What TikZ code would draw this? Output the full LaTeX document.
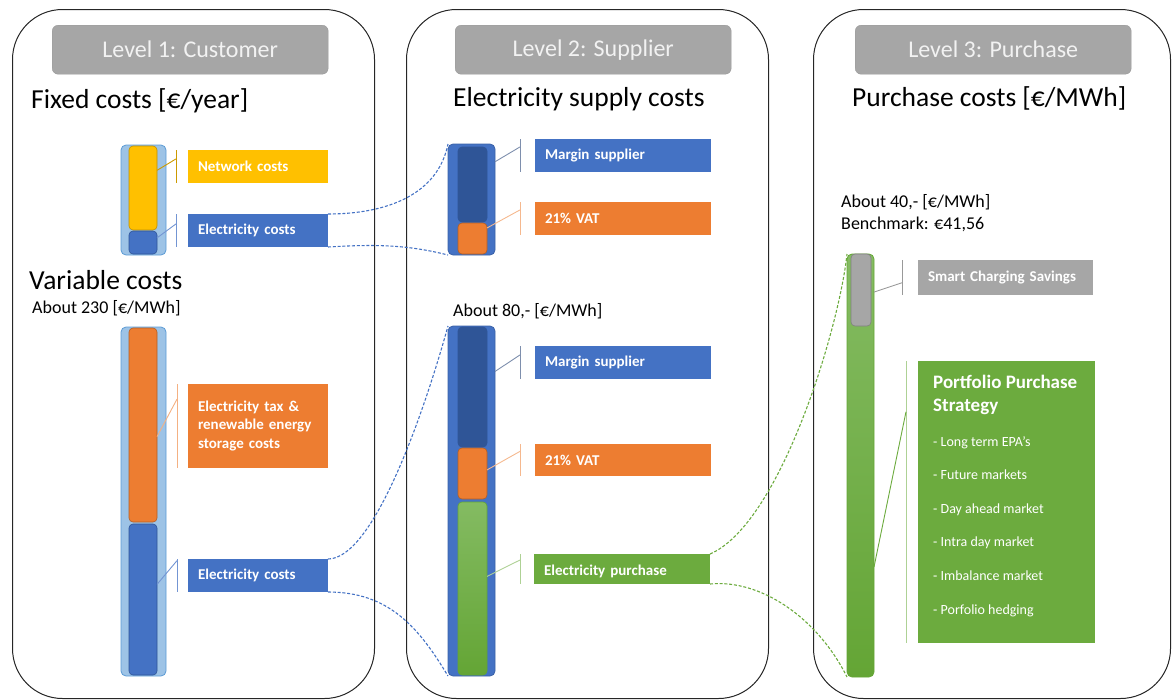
\documentclass[tikz,border=0pt]{standalone}
\usepackage{fontspec}
\setmainfont{Carlito}
\usetikzlibrary{calc}
\definecolor{cyel}{HTML}{FFC000}
\definecolor{cblue}{HTML}{4472C4}
\definecolor{cdblue}{HTML}{2F5597}
\definecolor{corange}{HTML}{ED7D31}
\definecolor{cgreen}{HTML}{6CAB3E}
\definecolor{cgreenl}{HTML}{84BB62}
\definecolor{cgreend}{HTML}{64A535}
\definecolor{cgrey}{HTML}{A6A6A6}
\definecolor{clblue}{HTML}{9DC3E6}
\definecolor{cmblue}{HTML}{5B9BD5}
\begin{document}
\begin{tikzpicture}[x=1pt, y=-1pt,
  panel/.style={draw=black!85, line width=1pt, rounded corners=50pt, inner sep=0pt, anchor=north west},
  header/.style={draw=black!40, fill=cgrey, rounded corners=6pt, text=black!5, font=\fontsize{24}{28}\selectfont,
    minimum width=276pt, minimum height=49pt, inner sep=0pt, anchor=north west},
  title/.style={anchor=base west, inner sep=0pt, font=\fontsize{27.5}{32}\selectfont},
  note/.style={anchor=base west, inner sep=0pt, font=\fontsize{18}{22}\selectfont},
  bar/.style={rounded corners=5pt, inner sep=0pt, outer sep=0pt, line width=0.8pt, anchor=north west},
  seg/.style={rounded corners=4pt, inner sep=0pt, outer sep=0pt, line width=0.6pt, anchor=north west},
  lbl/.style={inner xsep=10pt, inner ysep=0pt, outer sep=0pt, anchor=north west, text=white, align=left,
    text width=#1, minimum height=33pt, font=\fontsize{15}{18.5}\selectfont\bfseries},
  lbl/.default=120pt,
  item/.style={anchor=base west, inner sep=0pt, text=white, font=\fontsize{14}{16}\selectfont},
  ldr/.style={line width=0.9pt},
  link/.style={line width=1.1pt, dash pattern=on 3pt off 1.8pt}
]
\useasboundingbox (0,0) rectangle (1172,699);

% the three levels
\node[panel, minimum width=362pt, minimum height=689pt] (pan1) at (12,9) {};
\node[panel, minimum width=362pt, minimum height=689pt] (pan2) at (406,9) {};
\node[panel, minimum width=357pt, minimum height=689pt] (pan3) at (813,9) {};
\node[header] (head1) at (52,25) {Level 1: Customer};
\node[header] (head2) at (455,25) {Level 2: Supplier};
\node[header] (head3) at (855,25) {Level 3: Purchase};

\node[title] (fixt) at (31,108) {Fixed costs [€/year]};
\node[title] (supt) at (453,106) {Electricity supply costs};
\node[title] (purt) at (852,106) {Purchase costs [€/MWh]};
\node[title] (vart) at (29,289) {Variable costs};
\node[note] (varn) at (32,313) {About 230 [€/MWh]};
\node[note] (supn) at (453,316) {About 80,- [€/MWh]};
\node[note] (purn) at (841,207) {About 40,- [€/MWh]};
\node[note] (purb) at (841,229) {Benchmark: €41,56};

% level 1, fixed
\node[bar, fill=clblue, draw=cmblue, minimum width=45pt, minimum height=110pt] (fixbar) at (121,145) {};
\node[seg, fill=cyel, draw=cyel!75!black, minimum width=28pt, minimum height=84pt] (fixnet) at (129,146) {};
\node[seg, fill=cblue, draw=cdblue, minimum width=28pt, minimum height=23pt] (fixel) at (129,231) {};
\node[lbl, fill=cyel] (lnet) at (188,150) {Network costs};
\node[lbl, fill=cblue] (lfel) at (188,214) {Electricity costs};
\draw[ldr, cyel!80!black] ([xshift=-12pt]lnet.north west) -- ([xshift=-12pt]lnet.south west);
\draw[ldr, cyel!80!black] ($(fixnet.north east)!.29!(fixnet.south east)$) -- ($(lnet.north west)!.27!(lnet.south west)+(-12,0)$);
\draw[ldr, cblue!75] ([xshift=-12pt]lfel.north west) -- ([xshift=-12pt]lfel.south west);
\draw[ldr, cblue!75] ($(fixel.north east)!.3!(fixel.south east)$) -- ($(lfel.north west)!.3!(lfel.south west)+(-12,0)$);

% level 1, variable
\node[bar, fill=clblue, draw=cmblue, minimum width=45pt, minimum height=349pt] (varbar) at (121,327) {};
\node[seg, fill=corange, draw=corange!75!black, minimum width=28pt, minimum height=194pt] (vartax) at (129,328) {};
\node[seg, fill=cblue, draw=cdblue, minimum width=28pt, minimum height=151pt] (varel) at (129,524) {};
\node[lbl, fill=corange, minimum height=84pt] (ltax) at (188,384) {Electricity tax \&\\renewable energy\\storage costs};
\node[lbl, fill=cblue] (lvel) at (188,559) {Electricity costs};
\draw[ldr, corange!60] ([xshift=-11pt]ltax.north west) -- ([xshift=-11pt]ltax.south west);
\draw[ldr, corange!60] ($(vartax.north east)!.56!(vartax.south east)$) -- ($(ltax.north west)!.18!(ltax.south west)+(-11,0)$);
\draw[ldr, cblue!75] ([xshift=-11pt]lvel.north west) -- ([xshift=-11pt]lvel.south west);
\draw[ldr, cblue!75] ($(varel.north east)!.4!(varel.south east)$) -- ($(lvel.north west)!.05!(lvel.south west)+(-11,0)$);

% level 2, supply costs
\node[bar, fill=cblue, draw=cblue!85!black, minimum width=47pt, minimum height=111pt] (supbar) at (448,144) {};
\node[seg, fill=cdblue, draw=cdblue, minimum width=29pt, minimum height=75pt] (supmar) at (458,147) {};
\node[seg, fill=corange, draw=corange!75!black, minimum width=29pt, minimum height=31pt] (supvat) at (458,223) {};
\node[lbl=156pt, fill=cblue] (lmar) at (535,139) {Margin supplier};
\node[lbl=156pt, fill=corange] (lvat) at (535,202) {21\% VAT};
\draw[ldr, cblue!60!black!60] ([xshift=-15pt]lmar.north west) -- ([xshift=-15pt]lmar.south west);
\draw[ldr, cblue!60!black!60] ($(supbar.north east)!.16!(supbar.south east)$) -- ($(lmar.north west)!.24!(lmar.south west)+(-15,0)$);
\draw[ldr, corange!55] ([xshift=-15pt]lvat.north west) -- ([xshift=-15pt]lvat.south west);
\draw[ldr, corange!55] ($(supvat.north east)!.16!(supvat.south east)$) -- ($(lvat.north west)!.24!(lvat.south west)+(-15,0)$);

% level 2, per MWh
\node[bar, fill=cblue, draw=cblue!85!black, minimum width=47pt, minimum height=350pt] (kwhbar) at (448,326) {};
\node[seg, fill=cdblue, draw=cdblue, minimum width=29pt, minimum height=120pt] (kwhmar) at (458,327) {};
\node[seg, fill=corange, draw=corange!75!black, minimum width=29pt, minimum height=51pt] (kwhvat) at (458,448) {};
\node[seg, top color=cgreenl, bottom color=cgreend, draw=cgreend, minimum width=29pt, minimum height=173pt] (kwhbuy) at (458,502) {};
\node[lbl=156pt, fill=cblue] (lkmar) at (535,346) {Margin supplier};
\node[lbl=156pt, fill=corange, minimum height=32pt] (lkvat) at (535,444) {21\% VAT};
\node[lbl=156pt, fill=cgreen, minimum height=30pt, text height=13pt, text depth=0pt] (lkbuy) at (534,554) {Electricity purchase};
\draw[ldr, cblue!60!black!60] ([xshift=-15pt]lkmar.north west) -- ([xshift=-15pt]lkmar.south west);
\draw[ldr, cblue!60!black!60] ($(kwhbar.north east)!.13!(kwhbar.south east)$) -- ($(lkmar.north west)!.27!(lkmar.south west)+(-15,0)$);
\draw[ldr, corange!55] ([xshift=-15pt]lkvat.north west) -- ([xshift=-15pt]lkvat.south west);
\draw[ldr, corange!55] ($(kwhvat.north east)!.43!(kwhvat.south east)$) -- ($(lkvat.north west)!.23!(lkvat.south west)+(-15,0)$);
\draw[ldr, cgreen!55] ([xshift=-14pt]lkbuy.north west) -- ([xshift=-14pt]lkbuy.south west);
\draw[ldr, cgreen!55] ($(kwhbuy.north east)!.43!(kwhbuy.south east)$) -- ($(lkbuy.north west)!.2!(lkbuy.south west)+(-14,0)$);

% level 3, purchase
\node[bar, top color=cgreenl, bottom color=cgreend, draw=cgreend, minimum width=27pt, minimum height=423pt] (purbar) at (847,254) {};
\node[seg, fill=cgrey, draw=black!50, minimum width=20pt, minimum height=72pt] (pursave) at (851,254) {};
\node[lbl=155pt, fill=cgrey, minimum height=35pt] (lsave) at (918,260) {Smart Charging Savings};
\node[lbl=157pt, fill=cgreen, minimum height=282pt] (lport) at (918,361) {};
\node[item, font=\fontsize{19}{22}\selectfont\bfseries] (porta) at (933,388) {Portfolio Purchase};
\node[item, font=\fontsize{19}{22}\selectfont\bfseries] (portb) at (933,411) {Strategy};
\foreach \t [count=\i] in {Long term EPA’s, Future markets, Day ahead market, Intra day market, Imbalance market, Porfolio hedging}
  \node[item] (port\i) at (933,412.4+33.6*\i) {- \t};
\draw[ldr, black!40] ([xshift=-16pt]lsave.north west) -- ([xshift=-16pt]lsave.south west);
\draw[ldr, black!40] ($(purbar.north east)!.09!(purbar.south east)$) -- ($(lsave.north west)!.65!(lsave.south west)+(-16,0)$);
\draw[ldr, cgreen!55] ([xshift=-12pt]lport.north west) -- ([xshift=-12pt]lport.south west);
\draw[ldr, cgreen] ($(purbar.north east)!.74!(purbar.south east)$) -- ($(lport.north west)!.18!(lport.south west)+(-12,0)$);

% zoom connectors
\draw[link, cblue] (lfel.north east) .. controls +(60,0) and +(-10,50) .. (supbar.north west);
\draw[link, cblue] (lfel.south east) .. controls +(50,-3) and +(-40,-10) .. (supbar.south west);
\draw[link, cblue] (lvel.north east) .. controls +(45,0) and +(-25,90) .. (kwhbar.north west);
\draw[link, cblue] (lvel.south east) .. controls +(60,0) and +(-30,-50) .. (kwhbar.south west);
\draw[link, cgreen] (lkbuy.north east) .. controls +(70,-30) and +(-8,75) .. (purbar.north west);
\draw[link, cgreen] (lkbuy.south east) .. controls +(50,-5) and +(-30,-60) .. (purbar.south west);
\end{tikzpicture}
\end{document}
